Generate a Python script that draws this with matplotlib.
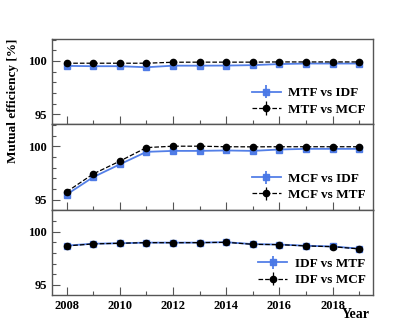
import matplotlib
matplotlib.use("Agg")
import matplotlib.pyplot as plt
from matplotlib.ticker import MultipleLocator

years = [2008, 2009, 2010, 2011, 2012, 2013, 2014, 2015, 2016, 2017, 2018, 2019]

# panel 1: MTF
mtf_vs_idf = [99.53, 99.5, 99.5, 99.4, 99.55, 99.55, 99.56, 99.6, 99.7, 99.75, 99.75, 99.75]
mtf_vs_mcf = [99.78, 99.78, 99.78, 99.78, 99.87, 99.88, 99.88, 99.88, 99.9, 99.9, 99.9, 99.9]

# panel 2: MCF
mcf_vs_idf = [95.47, 97.1, 98.3, 99.47, 99.56, 99.56, 99.6, 99.56, 99.69, 99.75, 99.75, 99.75]
mcf_vs_mtf = [95.72, 97.4, 98.6, 99.87, 100.0, 100.0, 99.95, 99.94, 99.95, 99.95, 99.95, 99.95]

# panel 3: IDF
idf_vs_mtf = [98.68, 98.86, 98.9, 98.96, 98.96, 98.96, 99.0, 98.82, 98.78, 98.67, 98.6, 98.4]
idf_vs_mcf = [98.65, 98.84, 98.9, 98.96, 98.95, 98.96, 98.99, 98.8, 98.77, 98.65, 98.58, 98.37]

panels = [
    (mtf_vs_idf, mtf_vs_mcf, "MTF vs IDF", "MTF vs MCF"),
    (mcf_vs_idf, mcf_vs_mtf, "MCF vs IDF", "MCF vs MTF"),
    (idf_vs_mtf, idf_vs_mcf, "IDF vs MTF", "IDF vs MCF"),
]

plt.rcParams["font.family"] = ["Liberation Serif", "DejaVu Serif"]
plt.rcParams["font.weight"] = "bold"

BLUE = "#4a78e6"
FRAME = "#555555"

fig = plt.figure(figsize=(4.15, 3.32), dpi=100)
left, right = 52 / 415, 373 / 415
top, bottom = 1 - 39 / 332, 1 - 295 / 332
h = (top - bottom) / 3

zeros = [0.0] * len(years)
for i, (blue_vals, black_vals, blue_lab, black_lab) in enumerate(panels):
    ax = fig.add_axes([left, top - (i + 1) * h, right - left, h])
    ax.errorbar(years, blue_vals, yerr=zeros, color=BLUE, marker="s",
                markersize=5, lw=1.3, elinewidth=1.3, label=blue_lab,
                markeredgecolor=BLUE, alpha=0.95)
    ax.errorbar(years, black_vals, yerr=zeros, color="black", marker="o",
                markersize=4.5, lw=0.9, ls="--", elinewidth=0.9, label=black_lab)
    ax.set_xlim(2007.45, 2019.52)
    ax.set_ylim(94.05, 102.05)
    ax.xaxis.set_major_locator(MultipleLocator(2))
    ax.xaxis.set_minor_locator(MultipleLocator(1))
    ax.yaxis.set_major_locator(MultipleLocator(5))
    ax.yaxis.set_minor_locator(MultipleLocator(1))
    ax.tick_params(which="both", direction="in", top=False, right=False,
                   colors=FRAME, labelcolor="black", labelsize=9, width=0.8)
    ax.tick_params(which="major", length=6)
    ax.tick_params(which="minor", length=3)
    for s in ax.spines.values():
        s.set_color(FRAME)
        s.set_linewidth(1.0)
    if i < 2:
        ax.tick_params(labelbottom=False)
    ax.legend(loc="lower right", bbox_to_anchor=(0.995, 0.04), frameon=False,
              fontsize=9.5, handlelength=2.2, handletextpad=0.6,
              labelspacing=0.3, borderaxespad=0)
    for t in ax.get_xticklabels() + ax.get_yticklabels():
        t.set_fontweight("bold")

fig.text(13 / 415, top, "Mutual efficiency [%]", rotation=90, ha="center",
         va="top", fontsize=9.5, fontweight="bold")
fig.text(right - 3 / 415, 1 - 314 / 332, "Year", ha="right", va="center",
         fontsize=10, fontweight="bold")

fig.savefig("out.png", dpi=100)
